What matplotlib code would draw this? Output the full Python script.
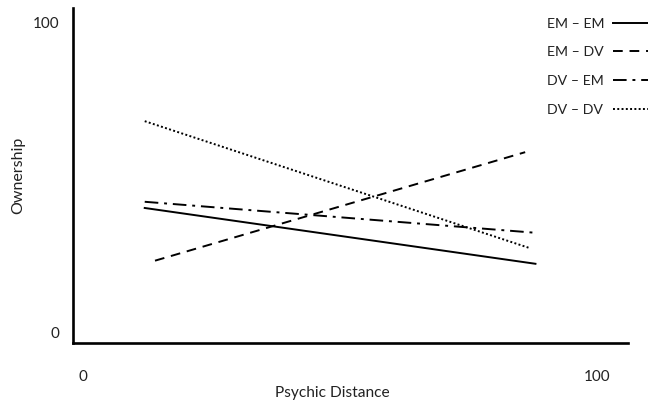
import matplotlib
matplotlib.use("Agg")
import matplotlib.pyplot as plt
from matplotlib.lines import Line2D

plt.rcParams["font.family"] = ["Lato", "DejaVu Sans"]

# ── data ──────────────────────────────────────────────────────────────────────
labels = ["EM – EM", "EM – DV", "DV – EM", "DV – DV"]
x_start = [12, 14, 12, 12]
x_end = [88, 86, 88, 87]
y_start = [40, 23, 42, 68]
y_end = [22, 58, 32, 27]
styles = ["-", (0, (5, 3.5)), (0, (7, 3, 1.5, 3)), (0, (1, 1.2))]

x_ticks = [0, 100]
y_ticks = [0, 100]

W, H = 648, 402
fig = plt.figure(figsize=(W / 100, H / 100), dpi=100)
# axes box in pixels: left 73, right 628, top 9, bottom 344
ax = fig.add_axes([73 / W, (H - 344) / H, (628 - 73) / W, (344 - 9) / H])
ax.set_xlim(-1.95, 106.0)
ax.set_ylim(-3.55, 104.5)

for lab, x0, x1, y0, y1, ls in zip(labels, x_start, x_end, y_start, y_end, styles):
    ax.plot([x0, x1], [y0, y1], color="black", lw=1.4, ls=ls, label=lab)

for s in ["top", "right"]:
    ax.spines[s].set_visible(False)
for s in ["left", "bottom"]:
    ax.spines[s].set_linewidth(1.9)
    ax.spines[s].set_color("black")

ax.set_xticks(x_ticks)
ax.set_yticks(y_ticks)
ax.tick_params(length=0, labelsize=11, colors="#222222")
ax.tick_params(axis="x", pad=19)
ax.tick_params(axis="y", pad=10)

fig.text(332 / W, 1 - 393 / H, "Psychic Distance", ha="center", va="center",
         fontsize=11.2, color="#222222")
fig.text(18 / W, 1 - 175 / H, "Ownership", ha="center", va="center",
         rotation=90, fontsize=11.5, color="#222222")

# legend: left-aligned labels, handles running off the right edge
row_y = [24, 52, 81, 110]
for lab, ls, py in zip(labels, styles, row_y):
    fy = 1 - py / H
    fig.text(547 / W, fy, lab, ha="left", va="center", fontsize=10.2,
             color="#222222")
    fig.add_artist(Line2D([613 / W, 660 / W], [fy, fy], color="black",
                          lw=1.4, ls=ls, transform=fig.transFigure))

fig.savefig("out.png", dpi=100)
